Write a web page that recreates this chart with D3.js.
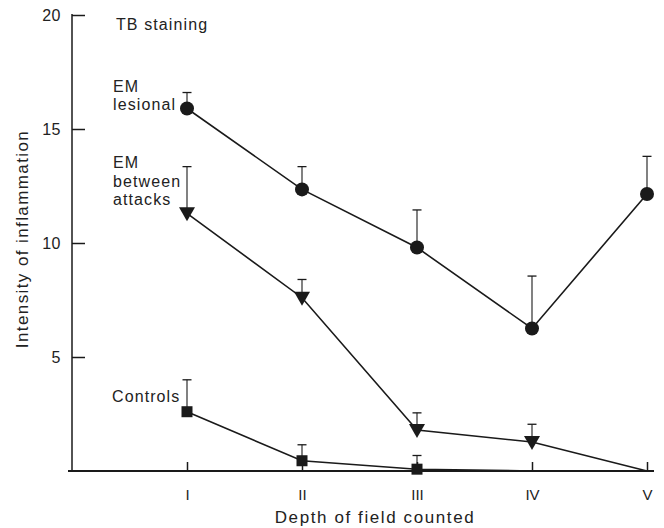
<!DOCTYPE html>
<html><head><meta charset="utf-8">
<script src="https://cdn.jsdelivr.net/npm/d3@7/dist/d3.min.js"></script>
<style>body{margin:0;background:#fff}svg{display:block}text{font-family:"Liberation Sans",Arial,sans-serif;fill:#222}</style>
</head><body><svg id="c" width="664" height="528"></svg>
<script>
const categories = ["I","II","III","IV","V"];
const yTicks = [5,10,15,20];
const lesional = [15.9, 12.35, 9.8, 6.25, 12.15];
const lesionalErr = [16.6, 13.35, 11.45, 8.55, 13.8];
const between = [11.3, 7.6, 1.8, 1.27, 0];
const betweenErr = [13.35, 8.4, 2.55, 2.05, null];
const controls = [2.6, 0.45, 0.08, 0, 0];
const controlsErr = [4.0, 1.15, 0.68, null, null];
const markerShown = {lesional:[1,1,1,1,1], between:[1,1,1,1,0], controls:[1,1,1,0,0]};

const svg = d3.select("#c");
const x = d3.scaleLinear().domain([0,5]).range([72,647]);
const y = d3.scaleLinear().domain([0,20]).range([471,15]);
const col = "#1a1a1a";

// axes
const yAxis = d3.axisLeft(y).tickValues(yTicks).tickSize(-13).tickPadding(11).tickFormat(d3.format("d"));
const gy = svg.append("g").attr("transform","translate(72,0)").call(yAxis);
gy.select(".domain").remove();
gy.selectAll(".tick line").attr("stroke",col).attr("stroke-width",1.5);
gy.selectAll(".tick text").attr("font-size",16).attr("letter-spacing",0.5).attr("fill","#333").attr("font-family","Liberation Sans, Arial").attr("dy","0.35em");
svg.append("line").attr("x1",72).attr("x2",72).attr("y1",y(20)-1).attr("y2",y(0)).attr("stroke",col).attr("stroke-width",1.5);

const xAxis = d3.axisBottom(x).tickValues([1,2,3,4,5]).tickSize(-9).tickPadding(18).tickFormat(d=>categories[d-1]);
const gx = svg.append("g").attr("transform",`translate(0,${y(0)})`).call(xAxis);
gx.select(".domain").remove();
gx.selectAll(".tick line").attr("stroke",col).attr("stroke-width",1.5);
gx.selectAll(".tick text").attr("font-size",15).attr("fill","#333").attr("font-family","Liberation Sans, Arial");
svg.append("line").attr("x1",68).attr("x2",654).attr("y1",y(0)).attr("y2",y(0)).attr("stroke",col).attr("stroke-width",1.8);

// titles
svg.append("text").attr("x",375).attr("y",523).attr("text-anchor","middle").attr("font-size",17).attr("letter-spacing",1.6).text("Depth of field counted");
svg.append("text").attr("transform","translate(28,239) rotate(-90)").attr("text-anchor","middle").attr("font-size",17).attr("letter-spacing",1.4).text("Intensity of inflammation");

// series
const line = d3.line().x((d,i)=>x(i+1)).y(d=>y(d));
function errBars(vals, errs){
  errs.forEach((e,i)=>{
    if(e==null) return;
    svg.append("line").attr("x1",x(i+1)).attr("x2",x(i+1)).attr("y1",y(vals[i])).attr("y2",y(e)).attr("stroke",col).attr("stroke-width",1.1);
    svg.append("line").attr("x1",x(i+1)-4.5).attr("x2",x(i+1)+4.5).attr("y1",y(e)).attr("y2",y(e)).attr("stroke",col).attr("stroke-width",1.3);
  });
}
[[lesional,lesionalErr],[between,betweenErr],[controls,controlsErr]].forEach(([v,e])=>{
  errBars(v,e);
  svg.append("path").attr("d",line(v)).attr("fill","none").attr("stroke",col).attr("stroke-width",1.6);
});
lesional.forEach((v,i)=>{ if(markerShown.lesional[i]) svg.append("circle").attr("cx",x(i+1)).attr("cy",y(v)).attr("r",7).attr("fill",col); });
between.forEach((v,i)=>{ if(markerShown.between[i]) svg.append("path").attr("transform",`translate(${x(i+1)},${y(v)})`).attr("d","M-8,-6 L8,-6 L0,8 Z").attr("fill",col); });
controls.forEach((v,i)=>{ if(markerShown.controls[i]) svg.append("rect").attr("x",x(i+1)-5.5).attr("y",y(v)-5.5).attr("width",11).attr("height",11).attr("fill",col); });

// labels
const lab = (t,xx,yy)=>svg.append("text").attr("x",xx).attr("y",yy).attr("font-size",16).attr("letter-spacing",1.1).text(t);
lab("TB staining",116,30);
lab("EM",113,92); lab("lesional",113,110);
lab("EM",113,168); lab("between",113,187); lab("attacks",113,205);
lab("Controls",112,402);
</script></body></html>
